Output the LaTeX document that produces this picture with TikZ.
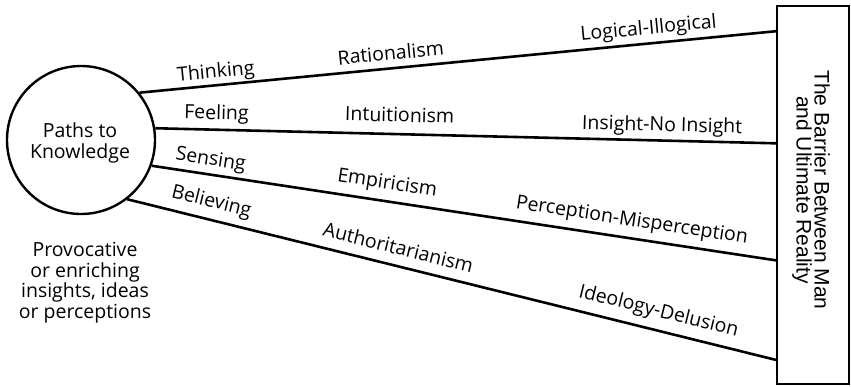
\documentclass[tikz,border=0pt]{standalone}
\usepackage{fontspec}
\setmainfont{Open Sans}
\newfontfamily\boxfont{Liberation Sans}
\usetikzlibrary{calc}
\begin{document}
\begin{tikzpicture}[x=1pt,y=-1pt,
  conn/.style={line width=2.6pt},
  lbl/.style={sloped, inner sep=0pt, text depth=0pt, font=\fontsize{19.5}{20.5}\selectfont},
  plain/.style={inner sep=0pt, align=center, font=\fontsize{19.5}{20.5}\selectfont}]
\useasboundingbox (0,0) rectangle (851,386);
\node[draw, circle, line width=2.4pt, minimum size=148pt, inner sep=0pt] (paths) at (81,140) {};
\node[plain] (ptk) at (80,143) {Paths to\\Knowledge};
\node[draw, rectangle, line width=2pt, minimum width=72pt, minimum height=378pt, inner sep=0pt] (box) at (813,195) {};
\node[rotate=-90, inner sep=0pt, align=center, font=\boxfont\fontsize{21}{18}\selectfont] (barrier) at (811,190) {The Barrier Between Man\\and Ultimate Reality};
\node[plain, anchor=north] (prov) at (85,242) {Provocative\\or enriching\\insights, ideas\\or perceptions};
\coordinate (e1) at ($(box.north west)!0.069!(box.south west)$);
\coordinate (e2) at ($(box.north west)!0.364!(box.south west)$);
\coordinate (e3) at ($(box.north west)!0.672!(box.south west)$);
\coordinate (e4) at ($(box.north west)!0.934!(box.south west)$);
\draw[conn] (paths.39) -- (e1)
  node[lbl, pos=0.122, above=6pt] (thinking) {Thinking}
  node[lbl, pos=0.397, above=7pt] (rational) {Rationalism}
  node[lbl, pos=0.802, above=8pt] (logical) {Logical-Illogical};
\draw[conn] (paths.9) -- (e2)
  node[lbl, pos=0.098, above=9pt] (feeling) {Feeling}
  node[lbl, pos=0.393, above=11pt] (intuit) {Intuitionism}
  node[lbl, pos=0.816, above=8pt] (insight) {Insight-No Insight};
\draw[conn] (paths.-20) -- (e3)
  node[lbl, pos=0.091, above=8pt] (sensing) {Sensing}
  node[lbl, pos=0.373, above=11pt] (empir) {Empiricism}
  node[lbl, pos=0.765, above=11pt] (percep) {Perception-Misperception};
\draw[conn] (paths.-52) -- (e4)
  node[lbl, pos=0.123, above=11pt] (believing) {Believing}
  node[lbl, pos=0.411, above=10pt] (author) {Authoritarianism}
  node[lbl, pos=0.812, above=12pt] (ideology) {Ideology-Delusion};
\end{tikzpicture}
\end{document}
